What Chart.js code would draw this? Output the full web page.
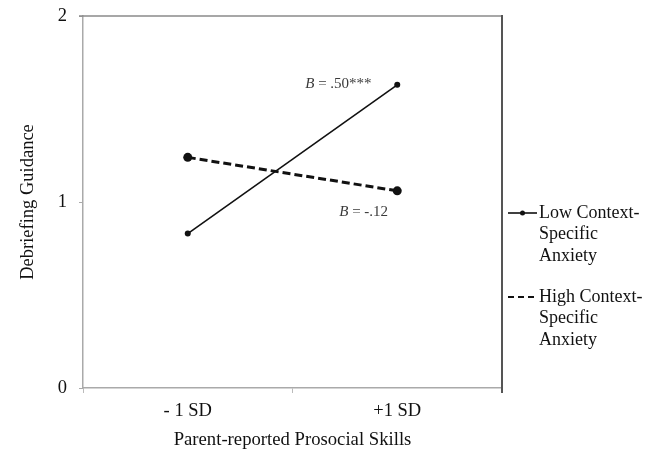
<!DOCTYPE html>
<html>
<head>
<meta charset="utf-8">
<script src="https://cdn.jsdelivr.net/npm/chart.js@4/dist/chart.umd.min.js"></script>
<style>
  html, body { margin: 0; padding: 0; background: #fff; }
  #wrap { width: 654px; height: 455px; position: relative; }
</style>
</head>
<body>
<div id="wrap"><canvas id="c" width="654" height="455"></canvas></div>
<script>
const categories = ['- 1 SD', '+1 SD'];
const lowAnxiety = [0.83, 1.63];
const highAnxiety = [1.24, 1.06];
const seriesLabels = [['Low Context-', 'Specific', 'Anxiety'], ['High Context-', 'Specific', 'Anxiety']];
const yTicks = [0, 1, 2];
const annotations = [
  { series: 0, index: 1, italic: 'B', rest: ' = .50***' },
  { series: 1, index: 1, italic: 'B', rest: ' = -.12' }
];
const xTitle = 'Parent-reported Prosocial Skills';
const yTitle = 'Debriefing Guidance';

const SERIF = '"Liberation Serif", "Times New Roman", serif';

const framePlugin = {
  id: 'frame',
  afterDatasetsDraw(chart) {
    const { ctx, chartArea: a } = chart;
    ctx.save();
    ctx.strokeStyle = '#8a8a8a';
    ctx.lineWidth = 1.5;
    ctx.beginPath();
    ctx.moveTo(a.left - 4, a.top);
    ctx.lineTo(a.right, a.top);
    ctx.stroke();
    ctx.strokeStyle = '#555';
    ctx.lineWidth = 2;
    ctx.beginPath();
    ctx.moveTo(a.right, a.top - 1);
    ctx.lineTo(a.right, a.bottom + 5);
    ctx.stroke();
    ctx.restore();
  }
};

const annotPlugin = {
  id: 'annot',
  afterDatasetsDraw(chart) {
    const { ctx } = chart;
    const xs = chart.scales.x, ys = chart.scales.y;
    ctx.save();
    ctx.fillStyle = '#3a3a3a';
    ctx.textBaseline = 'middle';
    annotations.forEach((an, k) => {
      const v = chart.data.datasets[an.series].data[an.index];
      const px = xs.getPixelForValue(an.index);
      const py = ys.getPixelForValue(v);
      const ox = k === 0 ? -92 : -58;
      const oy = k === 0 ? -1 : 21;
      ctx.font = 'italic 15px ' + SERIF;
      ctx.fillText(an.italic, px + ox, py + oy);
      const w = ctx.measureText(an.italic).width;
      ctx.font = '15px ' + SERIF;
      ctx.fillText(an.rest, px + ox + w, py + oy);
    });
    ctx.restore();
  }
};

const legendPlugin = {
  id: 'sideLegend',
  afterDraw(chart) {
    const { ctx, chartArea: a } = chart;
    ctx.save();
    ctx.textBaseline = 'middle';
    ctx.font = '18px ' + SERIF;
    ctx.fillStyle = '#111';
    const x0 = a.right + 6, x1 = a.right + 35, tx = a.right + 37;
    const starts = [213, 297];
    const lh = 21.5;
    chart.data.datasets.forEach((ds, i) => {
      const y = starts[i];
      ctx.strokeStyle = '#111';
      ctx.lineWidth = i === 0 ? 1.6 : 1.8;
      ctx.setLineDash(i === 0 ? [] : [6, 4]);
      ctx.beginPath();
      ctx.moveTo(x0, y);
      ctx.lineTo(x1, y);
      ctx.stroke();
      ctx.setLineDash([]);
      if (i === 0) {
        ctx.fillStyle = '#111';
        ctx.beginPath();
        ctx.arc((x0 + x1) / 2, y, 2.5, 0, Math.PI * 2);
        ctx.fill();
      }
      seriesLabels[i].forEach((t, j) => {
        ctx.fillStyle = '#111';
        ctx.fillText(t, tx, y + j * lh);
      });
    });
    ctx.restore();
  }
};

new Chart(document.getElementById('c'), {
  type: 'line',
  data: {
    labels: categories,
    datasets: [
      {
        label: seriesLabels[0].join(' '),
        data: lowAnxiety,
        borderColor: '#111',
        backgroundColor: '#111',
        borderWidth: 1.6,
        pointRadius: 3,
        pointBackgroundColor: '#111',
        pointBorderWidth: 0,
        tension: 0
      },
      {
        label: seriesLabels[1].join(' '),
        data: highAnxiety,
        borderColor: '#111',
        backgroundColor: '#111',
        borderWidth: 3,
        borderDash: [8, 4],
        pointRadius: 4.5,
        pointBackgroundColor: '#111',
        pointBorderWidth: 0,
        tension: 0
      }
    ]
  },
  options: {
    responsive: false,
    animation: false,
    devicePixelRatio: 1,
    layout: { padding: { top: 16, right: 152, left: 0, bottom: 0 } },
    plugins: {
      legend: { display: false },
      tooltip: { enabled: false }
    },
    scales: {
      x: {
        type: 'category',
        offset: true,
        grid: {
          offset: true,
          drawOnChartArea: false,
          drawTicks: true,
          tickLength: 5,
          color: '#bbb'
        },
        border: { color: '#aaa', width: 1.5 },
        ticks: { color: '#111', font: { family: SERIF, size: 18.5 }, padding: 7 },
        title: { display: true, text: xTitle, color: '#111', font: { family: SERIF, size: 18.7 }, padding: { top: 9 } },
        afterFit(s) { s.height = 67; s.paddingLeft = 0; s.paddingRight = 0; }
      },
      y: {
        min: 0,
        max: 2,
        afterBuildTicks(s) { s.ticks = yTicks.map(v => ({ value: v })); },
        grid: {
          drawOnChartArea: false,
          drawTicks: true,
          tickLength: 4,
          color: '#aaa'
        },
        border: { color: '#aaa', width: 1.5 },
        ticks: { color: '#111', font: { family: SERIF, size: 18.5 }, padding: 12 },
        title: { display: true, text: yTitle, color: '#111', font: { family: SERIF, size: 18.5 }, padding: { top: 17, bottom: 4 } },
        afterFit(s) { s.width = 83; s.paddingTop = 0; s.paddingBottom = 0; }
      }
    }
  },
  plugins: [framePlugin, annotPlugin, legendPlugin]
});
</script>
</body>
</html>
